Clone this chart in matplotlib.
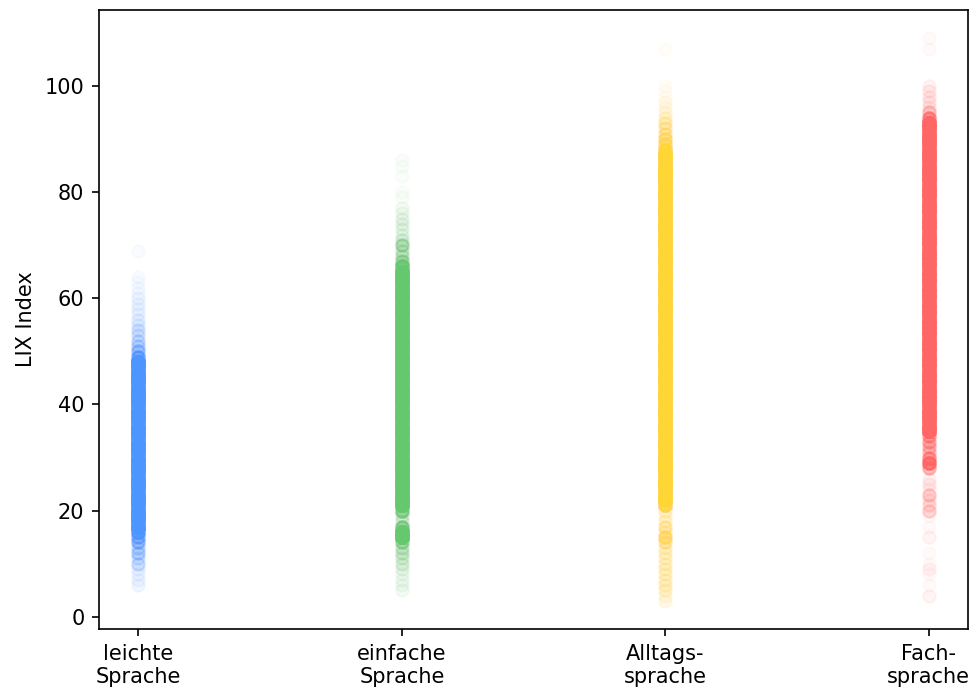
import numpy as np
import matplotlib
matplotlib.use("Agg")
import matplotlib.pyplot as plt

# Sprachniveaus und Farben
categories = ["leichte\nSprache", "einfache\nSprache", "Alltags-\nsprache", "Fach-\nsprache"]
colors = ["#4d96ff", "#66c86e", "#ffd633", "#ff6666"]

# LIX-Werte je Niveau (Wert, Anzahl Texte mit diesem Wert)
leicht_lix = [6, 7, 8, 9, 10, 11, 12, 13, 14, 15, 16, 17, 18, 19, 20, 21, 22, 23, 24, 25,
              26, 27, 28, 29, 30, 31, 32, 33, 34, 35, 36, 37, 38, 39, 40, 41, 42, 43, 44, 45,
              46, 47, 48, 49, 50, 51, 52, 53, 54, 55, 56, 57, 58, 59, 60, 61, 62, 63, 64, 69]
leicht_n = [2, 2, 2, 2, 7, 5, 10, 7, 17, 17, 35, 70, 70, 70, 70, 70, 70, 70, 70, 70,
            70, 70, 70, 70, 70, 70, 70, 70, 70, 70, 70, 70, 70, 70, 70, 70, 70, 70, 70, 70,
            70, 70, 70, 25, 14, 8, 7, 5, 5, 3, 3, 2, 2, 2, 2, 1, 1, 1, 1, 1]

einfach_lix = [5, 6, 7, 8, 9, 10, 11, 12, 13, 14, 15, 16, 17, 18, 19, 20, 21, 22, 23, 24,
               25, 26, 27, 28, 29, 30, 31, 32, 33, 34, 35, 36, 37, 38, 39, 40, 41, 42, 43, 44,
               45, 46, 47, 48, 49, 50, 51, 52, 53, 54, 55, 56, 57, 58, 59, 60, 61, 62, 63, 64,
               65, 66, 67, 68, 69, 70, 71, 72, 73, 74, 75, 76, 77, 79, 80, 83, 85, 86]
einfach_n = [2, 2, 2, 2, 3, 5, 5, 7, 7, 17, 70, 70, 25, 5, 5, 25, 70, 70, 70, 70,
             70, 70, 70, 70, 70, 70, 70, 70, 70, 70, 70, 70, 70, 70, 70, 70, 70, 70, 70, 70,
             70, 70, 70, 70, 70, 70, 70, 70, 70, 70, 70, 70, 70, 70, 70, 70, 70, 70, 70, 70,
             70, 35, 14, 8, 7, 14, 5, 3, 3, 3, 3, 2, 2, 1, 1, 1, 1, 1]

alltag_lix = [3, 4, 5, 6, 7, 8, 9, 10, 11, 12, 13, 14, 15, 16, 17, 18, 19, 20, 21, 22,
              23, 24, 25, 26, 27, 28, 29, 30, 31, 32, 33, 34, 35, 36, 37, 38, 39, 40, 41, 42,
              43, 44, 45, 46, 47, 48, 49, 50, 51, 52, 53, 54, 55, 56, 57, 58, 59, 60, 61, 62,
              63, 64, 65, 66, 67, 68, 69, 70, 71, 72, 73, 74, 75, 76, 77, 78, 79, 80, 81, 82,
              83, 84, 85, 86, 87, 88, 89, 90, 91, 92, 93, 94, 95, 96, 97, 98, 99, 100, 107]
alltag_n = [3, 3, 5, 5, 5, 5, 5, 5, 5, 5, 5, 10, 17, 5, 10, 5, 3, 5, 35, 70,
            70, 70, 70, 70, 70, 70, 70, 70, 70, 70, 70, 70, 70, 70, 70, 70, 70, 70, 70, 70,
            70, 70, 70, 70, 70, 70, 70, 70, 70, 70, 70, 70, 70, 70, 70, 70, 70, 70, 70, 70,
            70, 70, 70, 70, 70, 70, 70, 70, 70, 70, 70, 70, 70, 70, 70, 70, 70, 70, 70, 70,
            70, 70, 70, 70, 70, 35, 17, 14, 10, 8, 7, 5, 3, 2, 2, 1, 1, 1, 1]

fach_lix = [4, 6, 8, 9, 10, 12, 15, 17, 19, 20, 21, 22, 23, 24, 25, 26, 28, 29, 30, 31,
            32, 33, 34, 35, 36, 37, 38, 39, 40, 41, 42, 43, 44, 45, 46, 47, 48, 49, 50, 51,
            52, 53, 54, 55, 56, 57, 58, 59, 60, 61, 62, 63, 64, 65, 66, 67, 68, 69, 70, 71,
            72, 73, 74, 75, 76, 77, 78, 79, 80, 81, 82, 83, 84, 85, 86, 87, 88, 89, 90, 91,
            92, 93, 94, 95, 96, 97, 98, 99, 100, 107, 109]
fach_n = [2, 1, 1, 2, 1, 1, 2, 1, 1, 7, 5, 3, 8, 2, 3, 2, 14, 35, 20, 10,
          10, 14, 17, 70, 70, 70, 70, 70, 70, 70, 70, 70, 70, 70, 70, 70, 70, 70, 70, 70,
          70, 70, 70, 70, 70, 70, 70, 70, 70, 70, 70, 70, 70, 70, 70, 70, 70, 70, 70, 70,
          70, 70, 70, 70, 70, 70, 70, 70, 70, 70, 70, 70, 70, 70, 70, 70, 70, 70, 70, 70,
          70, 70, 25, 10, 3, 3, 3, 3, 2, 1, 1]

groups = [(leicht_lix, leicht_n), (einfach_lix, einfach_n),
          (alltag_lix, alltag_n), (fach_lix, fach_n)]

fig = plt.figure(figsize=(977 / 150, 691 / 150), dpi=150)
ax = fig.add_axes([0.1013, 0.0897, 0.8895, 0.8958])

for i, ((vals, counts), col) in enumerate(zip(groups, colors)):
    y = np.repeat(vals, counts)
    x = np.full(len(y), i)
    ax.scatter(x, y, color=col, alpha=0.03, s=36)

ax.set_xticks(range(len(categories)))
ax.set_xticklabels(categories, fontsize=10)
ax.tick_params(axis="y", labelsize=10)
ax.set_ylabel("LIX Index", fontsize=10)

fig.savefig("out.png", dpi=150)
